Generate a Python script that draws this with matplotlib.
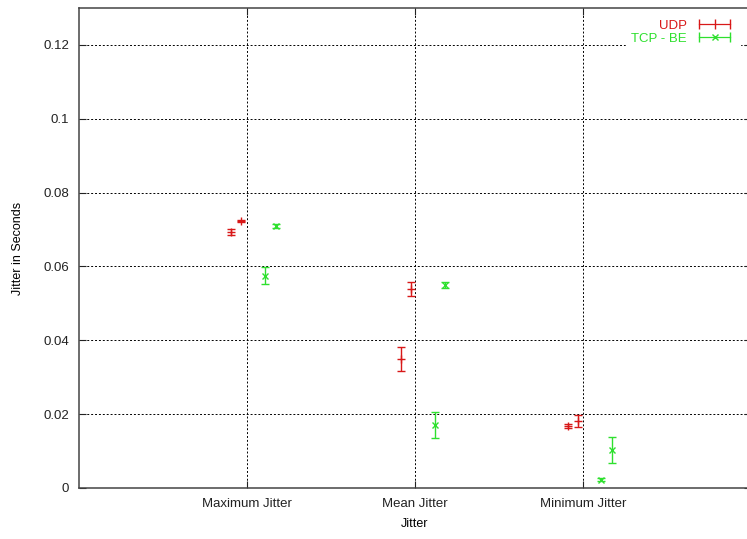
import matplotlib.pyplot as plt
from matplotlib.lines import Line2D
from matplotlib.legend_handler import HandlerLine2D, HandlerTuple

plt.rcParams['font.family'] = ['Liberation Sans', 'DejaVu Sans']

categories = ['Maximum Jitter', 'Mean Jitter', 'Minimum Jitter']
cat_pos = [1, 2, 3]

# UDP: x, value, error
udp_x = [0.905, 0.964, 1.917, 1.976, 2.91, 2.97]
udp_y = [0.0693, 0.0723, 0.0349, 0.0539, 0.0168, 0.0181]
udp_err = [0.0008, 0.0003, 0.0032, 0.0020, 0.0006, 0.0016]

# TCP - BE
tcp_x = [1.107, 1.17, 2.12, 2.18, 3.11, 3.17]
tcp_y = [0.0575, 0.0710, 0.0171, 0.0550, 0.0022, 0.0103]
tcp_err = [0.0023, 0.0005, 0.0035, 0.0008, 0.0004, 0.0035]

red = '#d81818'
green = '#2ee02e'

fig = plt.figure(figsize=(7.47, 5.39), dpi=100)
ax = fig.add_axes([79 / 747, 51 / 539, 672 / 747, 480 / 539])

ax.errorbar(udp_x, udp_y, yerr=udp_err, fmt='+', color=red, ms=6, mew=1,
            elinewidth=1, capsize=3, capthick=1)
ax.errorbar(tcp_x, tcp_y, yerr=tcp_err, fmt='x', color=green, ms=4, mew=1,
            elinewidth=1, capsize=3, capthick=1)

ax.set_xlim(0, 4)
ax.set_ylim(0, 0.13)
ax.set_xticks(cat_pos)
ax.set_xticklabels(categories, fontsize=9.5)
ax.set_yticks([0, 0.02, 0.04, 0.06, 0.08, 0.1, 0.12])
ax.set_yticklabels(['0', '0.02', '0.04', '0.06', '0.08', '0.1', '0.12'], fontsize=9.5)
ax.tick_params(direction='in', length=5, width=0.8, right=True, top=True, pad=7,
               colors='#222222')
ax.grid(True, color='black', linestyle=(0, (2, 2)), linewidth=0.7)
for s in ax.spines.values():
    s.set_color('#444444')
    s.set_linewidth(1.1)

ax.set_xlabel('Jitter', fontsize=9, labelpad=6)
ax.set_ylabel('Jitter in Seconds', fontsize=9, labelpad=14)

# legend samples drawn gnuplot-style: |--+--|
udp_bar = Line2D([], [], color=red, lw=0.9, marker='|', ms=7, mew=1)
udp_pt = Line2D([], [], color=red, ls='none', marker='|', ms=7, mew=1)
tcp_bar = Line2D([], [], color=green, lw=0.9, marker='|', ms=7, mew=1)
tcp_pt = Line2D([], [], color=green, ls='none', marker='x', ms=4, mew=1)
one = HandlerLine2D(numpoints=1)
leg = ax.legend([(udp_bar, udp_pt), (tcp_bar, tcp_pt)], ['UDP', 'TCP - BE'],
                handler_map={tuple: HandlerTuple(ndivide=1, pad=0), udp_pt: one, tcp_pt: one},
                numpoints=2, loc='upper right', bbox_to_anchor=(0.993, 1.0),
                markerfirst=False, fontsize=9.5, handlelength=3.0, handletextpad=0.6,
                labelspacing=0.05, frameon=True, fancybox=False, framealpha=1,
                edgecolor='white', borderpad=0.4)
for t, c in zip(leg.get_texts(), [red, green]):
    t.set_color(c)

plt.savefig('out.png', dpi=100)
